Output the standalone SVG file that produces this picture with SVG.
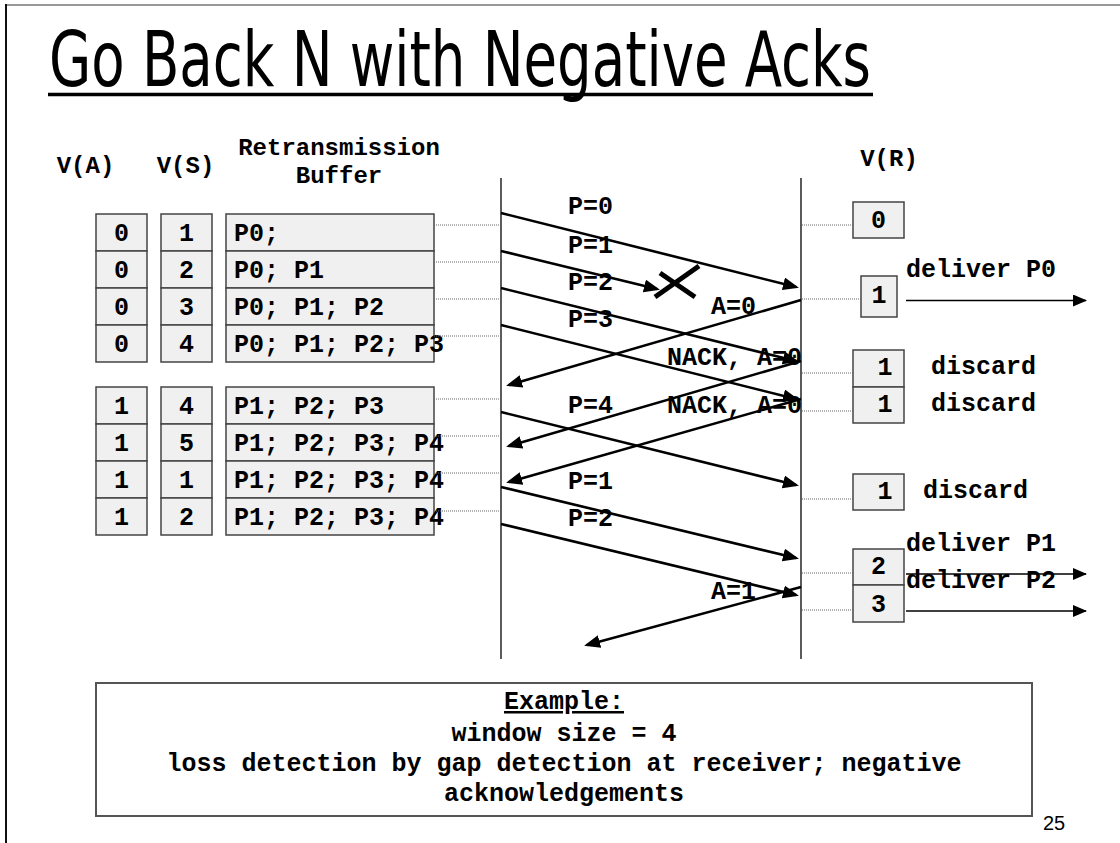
<svg xmlns="http://www.w3.org/2000/svg" width="1120" height="843" viewBox="0 0 1120 843">
  <style>
    .mono { font-family: "Liberation Mono", "Courier New", monospace; font-weight: bold; fill: #000; }
    .hdr { font-size: 24px; }
    .cell { font-size: 25px; }
    .lbl { font-size: 25px; }
    .box { fill: #f0f0f0; stroke: #444; stroke-width: 1.5; }
    .dot { stroke: #666; stroke-width: 1; stroke-dasharray: 1 1; fill: none; }
    .life { stroke: #333; stroke-width: 1.6; }
    .msg { stroke: #000; stroke-width: 2.6; fill: none; marker-end: url(#head); }
    .out { stroke: #000; stroke-width: 1.5; fill: none; marker-end: url(#headSmall); }
  </style>
  <defs>
    <marker id="head" markerUnits="userSpaceOnUse" markerWidth="16" markerHeight="14" refX="13" refY="6.5" orient="auto">
      <path d="M0,0 L16,6.5 L0,13 z" fill="#000"/>
    </marker>
    <marker id="headSmall" markerUnits="userSpaceOnUse" markerWidth="14" markerHeight="12" refX="13" refY="6" orient="auto">
      <path d="M0,0 L14,6 L0,12 z" fill="#000"/>
    </marker>
  </defs>

  <rect width="1120" height="843" fill="#fff"/>
  <!-- slide frame -->
  <line x1="5" y1="5" x2="1120" y2="5" stroke="#777" stroke-width="1.5"/>
  <line x1="6" y1="4" x2="6" y2="843" stroke="#111" stroke-width="2"/>

  <!-- title -->
  <g id="title">
    <text x="49" y="86" font-family="DejaVu Sans Condensed, DejaVu Sans, sans-serif" font-size="76" textLength="822" lengthAdjust="spacingAndGlyphs" fill="#000">Go Back N with Negative Acks</text>
    <line x1="48" y1="94.5" x2="873" y2="94.5" stroke="#000" stroke-width="3.5"/>
  </g>

  <!-- column headings -->
  <g id="headings" class="mono hdr">
    <text x="85.5" y="173" text-anchor="middle">V(A)</text>
    <text x="185.5" y="173" text-anchor="middle">V(S)</text>
    <text x="339" y="155" text-anchor="middle">Retransmission</text>
    <text x="339" y="183" text-anchor="middle">Buffer</text>
    <text x="889" y="166" text-anchor="middle">V(R)</text>
  </g>

  <!-- sender state table -->
  <g id="sender-state">
    <g id="row1">
      <rect class="box" x="96" y="214" width="51" height="37"/>
      <rect class="box" x="161" y="214" width="51" height="37"/>
      <rect class="box" x="226" y="214" width="208" height="37"/>
      <text class="mono cell" x="121.5" y="241" text-anchor="middle">0</text>
      <text class="mono cell" x="186.5" y="241" text-anchor="middle">1</text>
      <text class="mono cell" x="234" y="241">P0;</text>
    </g>
    <g id="row2">
      <rect class="box" x="96" y="251" width="51" height="37"/>
      <rect class="box" x="161" y="251" width="51" height="37"/>
      <rect class="box" x="226" y="251" width="208" height="37"/>
      <text class="mono cell" x="121.5" y="278" text-anchor="middle">0</text>
      <text class="mono cell" x="186.5" y="278" text-anchor="middle">2</text>
      <text class="mono cell" x="234" y="278">P0; P1</text>
    </g>
    <g id="row3">
      <rect class="box" x="96" y="288" width="51" height="37"/>
      <rect class="box" x="161" y="288" width="51" height="37"/>
      <rect class="box" x="226" y="288" width="208" height="37"/>
      <text class="mono cell" x="121.5" y="315" text-anchor="middle">0</text>
      <text class="mono cell" x="186.5" y="315" text-anchor="middle">3</text>
      <text class="mono cell" x="234" y="315">P0; P1; P2</text>
    </g>
    <g id="row4">
      <rect class="box" x="96" y="325" width="51" height="37"/>
      <rect class="box" x="161" y="325" width="51" height="37"/>
      <rect class="box" x="226" y="325" width="208" height="37"/>
      <text class="mono cell" x="121.5" y="352" text-anchor="middle">0</text>
      <text class="mono cell" x="186.5" y="352" text-anchor="middle">4</text>
      <text class="mono cell" x="234" y="352">P0; P1; P2; P3</text>
    </g>
    <g id="row5">
      <rect class="box" x="96" y="387" width="51" height="37"/>
      <rect class="box" x="161" y="387" width="51" height="37"/>
      <rect class="box" x="226" y="387" width="208" height="37"/>
      <text class="mono cell" x="121.5" y="414" text-anchor="middle">1</text>
      <text class="mono cell" x="186.5" y="414" text-anchor="middle">4</text>
      <text class="mono cell" x="234" y="414">P1; P2; P3</text>
    </g>
    <g id="row6">
      <rect class="box" x="96" y="424" width="51" height="37"/>
      <rect class="box" x="161" y="424" width="51" height="37"/>
      <rect class="box" x="226" y="424" width="208" height="37"/>
      <text class="mono cell" x="121.5" y="451" text-anchor="middle">1</text>
      <text class="mono cell" x="186.5" y="451" text-anchor="middle">5</text>
      <text class="mono cell" x="234" y="451">P1; P2; P3; P4</text>
    </g>
    <g id="row7">
      <rect class="box" x="96" y="461" width="51" height="37"/>
      <rect class="box" x="161" y="461" width="51" height="37"/>
      <rect class="box" x="226" y="461" width="208" height="37"/>
      <text class="mono cell" x="121.5" y="488" text-anchor="middle">1</text>
      <text class="mono cell" x="186.5" y="488" text-anchor="middle">1</text>
      <text class="mono cell" x="234" y="488">P1; P2; P3; P4</text>
    </g>
    <g id="row8">
      <rect class="box" x="96" y="498" width="51" height="37"/>
      <rect class="box" x="161" y="498" width="51" height="37"/>
      <rect class="box" x="226" y="498" width="208" height="37"/>
      <text class="mono cell" x="121.5" y="525" text-anchor="middle">1</text>
      <text class="mono cell" x="186.5" y="525" text-anchor="middle">2</text>
      <text class="mono cell" x="234" y="525">P1; P2; P3; P4</text>
    </g>
  </g>

  <!-- receiver state -->
  <g id="receiver-state">
    <g id="vr0">
      <rect class="box" x="853" y="202" width="51" height="36"/>
      <text class="mono cell" x="878.5" y="228" text-anchor="middle">0</text>
    </g>
    <g id="vr1-deliver">
      <rect class="box" x="861" y="276" width="36" height="41"/>
      <text class="mono cell" x="879" y="303" text-anchor="middle">1</text>
      <text class="mono lbl" x="906" y="277">deliver P0</text>
    </g>
    <g id="vr1-discard-a">
      <rect class="box" x="853" y="350" width="51" height="37"/>
      <text class="mono cell" x="885" y="375" text-anchor="middle">1</text>
      <text class="mono lbl" x="931" y="374">discard</text>
    </g>
    <g id="vr1-discard-b">
      <rect class="box" x="853" y="387" width="51" height="36"/>
      <text class="mono cell" x="885" y="411.5" text-anchor="middle">1</text>
      <text class="mono lbl" x="931" y="411">discard</text>
    </g>
    <g id="vr1-discard-c">
      <rect class="box" x="853" y="474" width="51" height="36"/>
      <text class="mono cell" x="885" y="499" text-anchor="middle">1</text>
      <text class="mono lbl" x="923" y="498">discard</text>
    </g>
    <g id="vr2">
      <rect class="box" x="853" y="549" width="51" height="36"/>
      <text class="mono cell" x="878.5" y="574" text-anchor="middle">2</text>
      <text class="mono lbl" x="906" y="551">deliver P1</text>
    </g>
    <g id="vr3">
      <rect class="box" x="853" y="585" width="51" height="37"/>
      <text class="mono cell" x="878.5" y="612" text-anchor="middle">3</text>
      <text class="mono lbl" x="906" y="588">deliver P2</text>
    </g>
  </g>

  <!-- connectors -->
  <g id="connectors">
    <!-- timelines -->
    <line class="life" x1="501" y1="178" x2="501" y2="659"/>
    <line class="life" x1="801" y1="178" x2="801" y2="659"/>

    <!-- sender table rows to sender timeline -->
    <line class="dot" x1="434" y1="225" x2="499" y2="225"/>
    <line class="dot" x1="434" y1="262" x2="499" y2="262"/>
    <line class="dot" x1="434" y1="299" x2="499" y2="299"/>
    <line class="dot" x1="434" y1="336" x2="499" y2="336"/>
    <line class="dot" x1="434" y1="399" x2="499" y2="399"/>
    <line class="dot" x1="434" y1="436" x2="499" y2="436"/>
    <line class="dot" x1="434" y1="473" x2="499" y2="473"/>
    <line class="dot" x1="434" y1="511" x2="499" y2="511"/>

    <!-- receiver timeline to receiver state -->
    <line class="dot" x1="802" y1="225" x2="853" y2="225"/>
    <line class="dot" x1="802" y1="299" x2="861" y2="299"/>
    <line class="dot" x1="802" y1="373" x2="853" y2="373"/>
    <line class="dot" x1="802" y1="411" x2="853" y2="411"/>
    <line class="dot" x1="802" y1="499" x2="853" y2="499"/>
    <line class="dot" x1="802" y1="573" x2="853" y2="573"/>
    <line class="dot" x1="802" y1="610" x2="853" y2="610"/>

    <!-- packets and acknowledgements -->
    <line class="msg" x1="501" y1="213" x2="796" y2="287"/>
    <line class="msg" x1="501" y1="251" x2="657" y2="289"/>
    <line class="msg" x1="501" y1="288" x2="796" y2="361"/>
    <line class="msg" x1="501" y1="325" x2="796" y2="399"/>
    <line class="msg" x1="801" y1="300" x2="509" y2="385"/>
    <line class="msg" x1="801" y1="361" x2="509" y2="446"/>
    <line class="msg" x1="801" y1="399" x2="509" y2="482"/>
    <line class="msg" x1="501" y1="412" x2="796" y2="485"/>
    <line class="msg" x1="501" y1="487" x2="796" y2="558"/>
    <line class="msg" x1="501" y1="524" x2="796" y2="595"/>
    <line class="msg" x1="801" y1="587" x2="587" y2="645"/>

    <!-- loss mark -->
    <line x1="655" y1="297" x2="699" y2="266" stroke="#000" stroke-width="5"/>
    <line x1="660" y1="273" x2="695" y2="297" stroke="#000" stroke-width="5"/>

    <!-- delivery to the upper layer -->
    <line class="out" x1="906" y1="300.5" x2="1086" y2="300.5"/>
    <line class="out" x1="906" y1="574" x2="1086" y2="574"/>
    <line class="out" x1="906" y1="611" x2="1086" y2="611"/>
  </g>

  <!-- message labels -->
  <g id="labels" class="mono lbl">
    <text x="568" y="214">P=0</text>
    <text x="568" y="253">P=1</text>
    <text x="568" y="290">P=2</text>
    <text x="568" y="327">P=3</text>
    <text x="711" y="314">A=0</text>
    <text x="667" y="365">NACK, A=0</text>
    <text x="568" y="413">P=4</text>
    <text x="667" y="413">NACK, A=0</text>
    <text x="568" y="489">P=1</text>
    <text x="568" y="526">P=2</text>
    <text x="711" y="599">A=1</text>
  </g>

  <!-- example note -->
  <g id="note">
    <rect x="96" y="683" width="936" height="133" fill="#fff" stroke="#555" stroke-width="2"/>
    <text class="mono lbl" x="564" y="709" text-anchor="middle" text-decoration="underline">Example:</text>
    <text class="mono lbl" x="564" y="741" text-anchor="middle">window size = 4</text>
    <text class="mono lbl" x="564" y="771" text-anchor="middle">loss detection by gap detection at receiver; negative</text>
    <text class="mono lbl" x="564" y="801" text-anchor="middle">acknowledgements</text>
  </g>

  <!-- slide number -->
  <text x="1043" y="830" font-family="Liberation Sans, Arial, sans-serif" font-size="20" fill="#000">25</text>
</svg>
